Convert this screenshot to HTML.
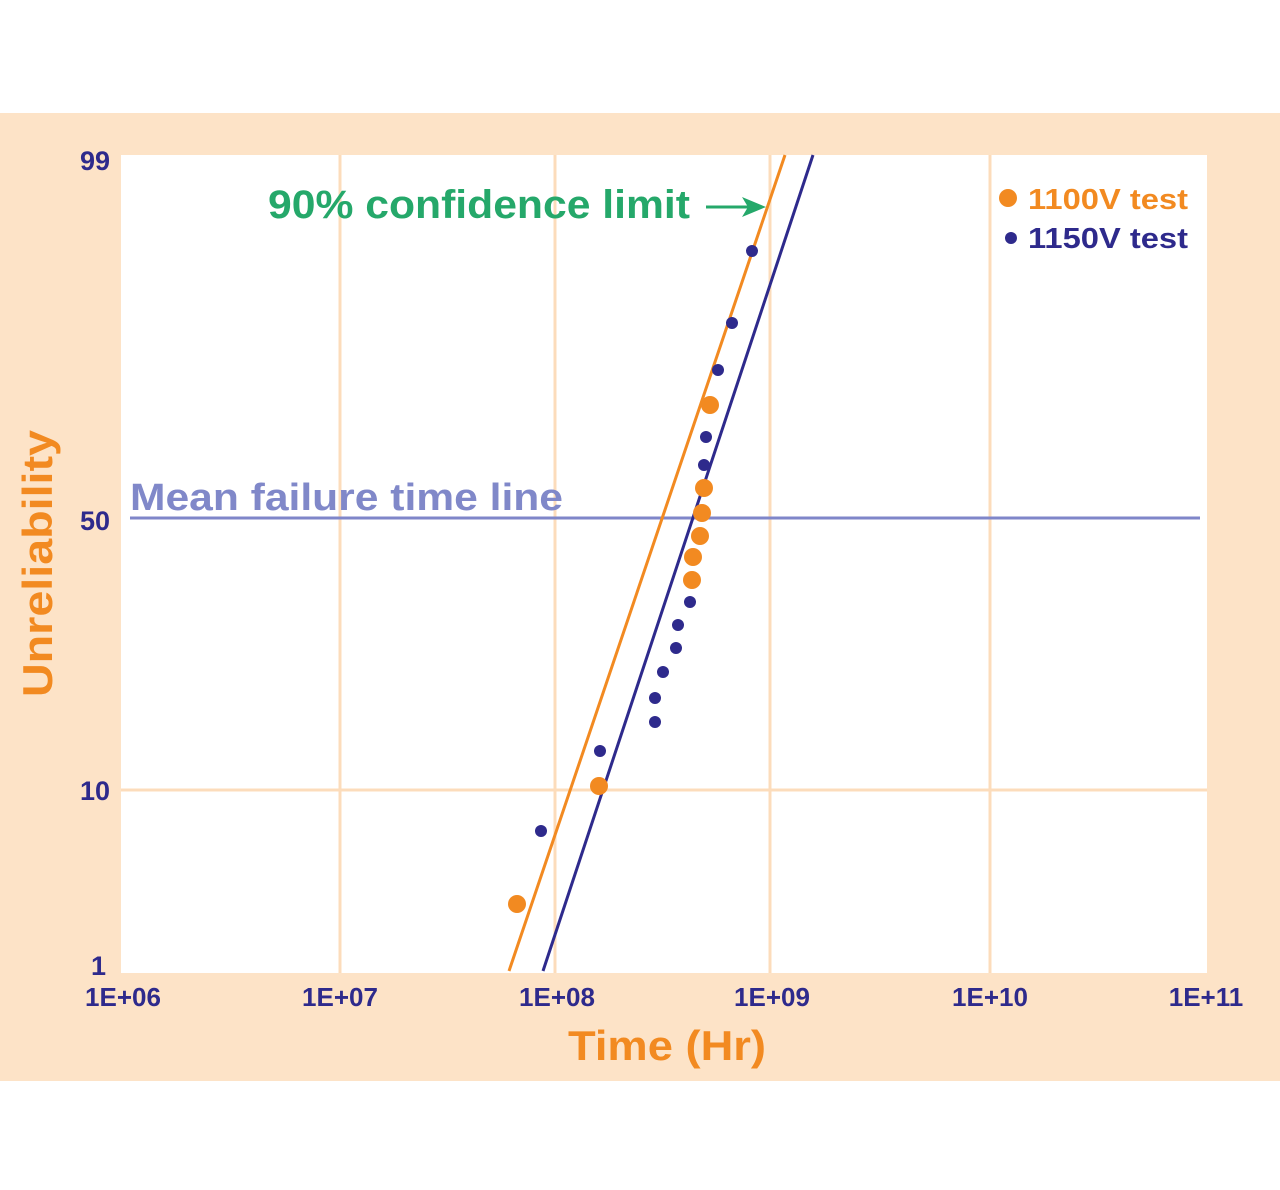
<!DOCTYPE html>
<html><head><meta charset="utf-8"><style>
html,body{margin:0;padding:0;background:#fff;}
svg{display:block;font-family:"Liberation Sans",sans-serif;font-weight:bold;}
</style></head><body>
<svg width="1280" height="1190" viewBox="0 0 1280 1190" xmlns="http://www.w3.org/2000/svg">
<rect x="0" y="0" width="1280" height="1190" fill="#fff"/>
<rect x="0" y="113" width="1280" height="968" fill="#fde3c7"/>
<rect x="121" y="155" width="1086" height="818" fill="#fff"/>
<g stroke="#fcdcbb" stroke-width="3">
<line x1="340" y1="155" x2="340" y2="973"/>
<line x1="555" y1="155" x2="555" y2="973"/>
<line x1="770" y1="155" x2="770" y2="973"/>
<line x1="990" y1="155" x2="990" y2="973"/>
<line x1="121" y1="790" x2="1207" y2="790"/>
</g>
<line x1="130" y1="518" x2="1200" y2="518" stroke="#7f86c9" stroke-width="3"/>
<text x="130" y="510" font-size="38" fill="#8088c9" textLength="433" lengthAdjust="spacingAndGlyphs">Mean failure time line</text>
<line x1="509" y1="971" x2="785" y2="155" stroke="#f28a21" stroke-width="3"/>
<line x1="543" y1="971" x2="813" y2="155" stroke="#2e2a8c" stroke-width="3"/>
<g fill="#f28a21">
<circle cx="517" cy="904" r="9"/><circle cx="599" cy="786" r="9"/>
<circle cx="692" cy="580" r="9"/><circle cx="693" cy="557" r="9"/>
<circle cx="700" cy="536" r="9"/><circle cx="702" cy="513" r="9"/>
<circle cx="704" cy="488" r="9"/><circle cx="710" cy="405" r="9"/>
</g>
<g fill="#2e2a8c">
<circle cx="541" cy="831" r="6"/><circle cx="600" cy="751" r="6"/>
<circle cx="655" cy="722" r="6"/><circle cx="655" cy="698" r="6"/>
<circle cx="663" cy="672" r="6"/><circle cx="676" cy="648" r="6"/>
<circle cx="678" cy="625" r="6"/><circle cx="690" cy="602" r="6"/>
<circle cx="704" cy="465" r="6"/><circle cx="706" cy="437" r="6"/>
<circle cx="718" cy="370" r="6"/><circle cx="732" cy="323" r="6"/>
<circle cx="752" cy="251" r="6"/>
</g>
<text x="268" y="218" font-size="40" fill="#25a86a" textLength="422" lengthAdjust="spacingAndGlyphs">90% confidence limit</text>
<line x1="706" y1="207" x2="756" y2="207" stroke="#25a86a" stroke-width="3"/>
<path d="M766 207 L742 197 L748 207 L742 217 Z" fill="#25a86a"/>
<circle cx="1008" cy="198" r="9" fill="#f28a21"/>
<text x="1028" y="209" font-size="29" fill="#f28a21" textLength="160" lengthAdjust="spacingAndGlyphs">1100V test</text>
<circle cx="1011" cy="238" r="6" fill="#2e2a8c"/>
<text x="1028" y="248" font-size="29" fill="#2e2a8c" textLength="160" lengthAdjust="spacingAndGlyphs">1150V test</text>
<g font-size="27" fill="#2e2a8c" text-anchor="end">
<text x="110" y="170">99</text>
<text x="110" y="530">50</text>
<text x="110" y="800">10</text>
<text x="106" y="975">1</text>
</g>
<g font-size="26" fill="#2e2a8c" text-anchor="middle">
<text x="123" y="1006">1E+06</text>
<text x="340" y="1006">1E+07</text>
<text x="557" y="1006">1E+08</text>
<text x="772" y="1006">1E+09</text>
<text x="990" y="1006">1E+10</text>
<text x="1206" y="1006">1E+11</text>
</g>
<text x="568" y="1060" font-size="42" fill="#f28a21" textLength="198" lengthAdjust="spacingAndGlyphs">Time (Hr)</text>
<text transform="translate(52,697) rotate(-90)" font-size="42" fill="#f28a21" textLength="267" lengthAdjust="spacingAndGlyphs">Unreliability</text>
</svg>
</body></html>
